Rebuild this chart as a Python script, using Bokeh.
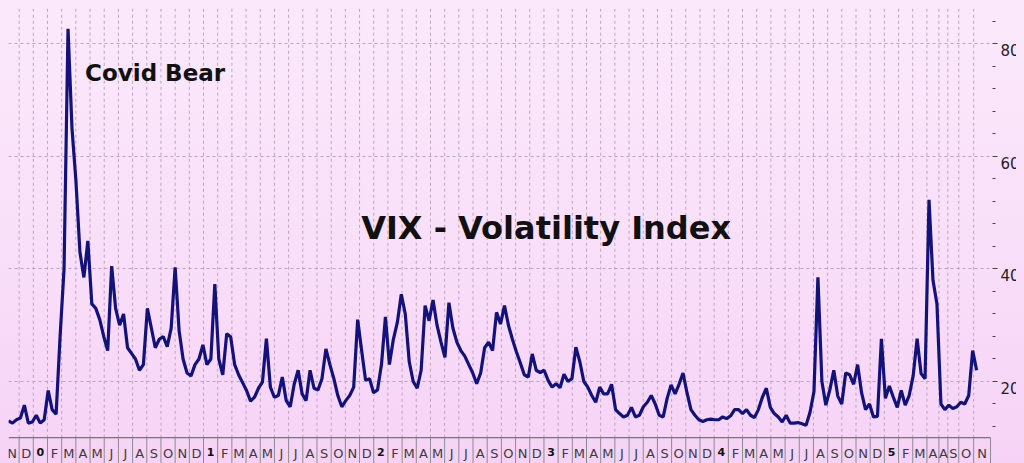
import numpy as np
from bokeh.plotting import figure
from bokeh.models import FixedTicker, Label, Range1d, GlobalInlineStyleSheet, LinearAxis
from bokeh.core.properties import value
from bokeh.embed import file_html
from bokeh.resources import INLINE

# ---- data: VIX close, one value per session bucket (Nov 2019 .. Oct 2025) ----
vix = [
    13.0, 12.6, 13.2, 13.5, 15.8, 12.6, 12.8, 14.0, 12.6, 13.2,
    18.4, 15.0, 14.2, 28.0, 40.0, 82.7, 65.0, 55.6, 43.0, 38.5,
    45.0, 33.8, 33.0, 31.0, 28.0, 25.5, 40.5, 33.0, 30.0, 32.0,
    26.0, 25.0, 24.0, 22.0, 23.0, 33.0, 29.5, 26.0, 27.5, 28.0,
    26.2, 29.5, 40.3, 29.0, 24.0, 21.5, 21.0, 23.0, 24.0, 26.5,
    23.0, 24.0, 37.3, 24.0, 21.2, 28.5, 27.9, 23.0, 21.2, 19.8,
    18.4, 16.5, 17.2, 18.8, 19.9, 27.6, 19.0, 17.2, 17.5, 20.8,
    16.6, 15.5, 19.5, 22.0, 17.8, 16.6, 22.0, 18.8, 18.5, 20.5,
    25.8, 23.0, 20.5, 17.5, 15.5, 16.6, 17.5, 19.0, 31.0, 25.5,
    20.2, 20.5, 18.0, 18.5, 23.0, 31.5, 23.0, 27.5, 30.5, 35.5,
    32.0, 23.5, 20.0, 18.8, 22.0, 33.5, 30.8, 34.5, 30.0, 27.0,
    24.3, 34.0, 29.5, 27.0, 25.5, 24.5, 23.0, 21.5, 19.6, 21.5,
    26.0, 27.0, 25.5, 32.3, 30.2, 33.5, 30.0, 27.5, 25.3, 23.3,
    21.2, 20.8, 24.9, 22.0, 21.6, 22.0, 20.2, 19.0, 19.6, 18.9,
    21.3, 20.0, 20.5, 26.1, 23.5, 20.0, 19.0, 17.5, 16.3, 19.0,
    17.8, 17.8, 19.5, 15.0, 14.3, 13.7, 14.0, 15.4, 13.7, 14.0,
    15.5, 16.3, 17.5, 16.0, 14.0, 13.7, 17.0, 19.4, 17.8, 19.5,
    21.5, 18.0, 15.0, 14.0, 13.2, 12.9, 13.2, 13.3, 13.2, 13.2,
    13.7, 13.4, 13.9, 15.0, 15.0, 14.3, 15.0, 14.0, 13.6, 15.0,
    17.2, 18.8, 15.4, 14.3, 13.7, 12.8, 14.0, 12.6, 12.6, 12.7,
    12.5, 12.2, 14.5, 18.2, 38.5, 20.0, 15.8, 18.5, 22.0, 17.4,
    16.0, 21.5, 21.2, 19.5, 23.0, 18.0, 15.0, 16.0, 13.7, 13.8,
    27.6, 17.0, 19.2, 17.2, 15.4, 18.4, 15.8, 17.5, 21.0, 27.6,
    21.4, 20.5, 52.3, 38.0, 33.8, 16.0, 15.0, 15.8, 15.2, 15.5,
    16.3, 16.0, 17.5, 25.5, 22.0,
]

# month labels on the time axis (year digit marks January)
labels_2019 = ["N", "D"]
labels_2020 = ["0", "F", "M", "A", "M", "J", "J", "A", "S", "O", "N", "D"]
labels_2021 = ["1", "F", "M", "A", "M", "J", "J", "A", "S", "O", "N", "D"]
labels_2022 = ["2", "F", "M", "A", "M", "J", "J", "A", "S", "O", "N", "D"]
labels_2023 = ["3", "F", "M", "A", "M", "J", "J", "A", "S", "O", "N", "D"]
labels_2024 = ["4", "F", "M", "A", "M", "J", "J", "A", "S", "O", "N", "D"]
labels_2025 = ["5", "F", "M", "A", "A", "S", "O", "N"]
month_labels = labels_2019 + labels_2020 + labels_2021 + labels_2022 + labels_2023 + labels_2024 + labels_2025

# month start positions in session-bucket units
month_width = 3.575
month_starts = [round(-0.9 + month_width * k, 3) for k in range(66)] + [234.5, 236.75, 239.5, 243.25]
axis_end = 247.5

y_major = [20, 40, 60, 80]
y_minor = [12, 16, 24, 28, 32, 36, 44, 48, 52, 56, 64, 68, 72, 76, 84]
y_labels = ["20.", "40.", "60.", "80."]

FONT = "DejaVu Sans"

# ranges (value axis floor = 10; strip below holds the month labels)
X_END = 248
Y_TOP = 86.31
Y_FLOOR = 10
Y_BOTTOM = 5.42
LABEL_Y = 7.2
YEAR_Y = 7.45
LABEL_SHIFT = 1.07   # value-axis label sits a little below its tick

bounds = month_starts + [axis_end]
centers = [round((a + b) / 2.0, 4) for a, b in zip(bounds[:-1], bounds[1:])]
letter_x = [c for c, lab in zip(centers, month_labels) if not lab.isdigit()]
letter_t = [lab for lab in month_labels if not lab.isdigit()]
year_x = [c for c, lab in zip(centers, month_labels) if lab.isdigit()]
year_t = [lab for lab in month_labels if lab.isdigit()]

x = np.arange(len(vix))

p = figure(frame_width=984, frame_height=455,
           x_range=Range1d(0, X_END), y_range=Range1d(Y_BOTTOM, Y_TOP),
           output_backend="svg", toolbar_location=None,
           y_axis_location="right", x_axis_location=None,
           min_border_left=0, min_border_top=0, min_border_right=0, min_border_bottom=0)

p.stylesheets = [GlobalInlineStyleSheet(css="html { min-height: 100%; background: linear-gradient(to bottom, #fbe9fb 0%, #f9e0f9 50%, #f6d3f6 100%) fixed; } body { margin: 8px; background: transparent; }")]
p.background_fill_alpha = 0
p.border_fill_alpha = 0
p.outline_line_color = None

# grids
p.xgrid.visible = False
p.ygrid.ticker = FixedTicker(ticks=y_major)
p.ygrid.grid_line_color = "#bfa2bf"
p.ygrid.grid_line_dash = "3 3"
p.ygrid.grid_line_width = 1

# vertical dotted month gridlines above the time axis
p.segment(x0=month_starts, y0=[Y_FLOOR] * len(month_starts), x1=month_starts, y1=[Y_TOP] * len(month_starts),
          line_color="#bfa2bf", line_dash="3 3", line_width=1)

# time axis: base line, month separators and labels
p.segment(x0=[0], y0=[Y_FLOOR], x1=[axis_end], y1=[Y_FLOOR], line_color="#5a5a5a", line_width=1)
p.segment(x0=bounds, y0=[Y_FLOOR] * len(bounds), x1=bounds, y1=[Y_BOTTOM] * len(bounds),
          line_color="#8c8c8c", line_width=1)
p.text(x=letter_x, y=[LABEL_Y] * len(letter_x), text=letter_t, text_font=value(FONT),
       text_font_size="13px", text_color="#3c3c3c", text_align="center", text_baseline="middle")
p.text(x=year_x, y=[YEAR_Y] * len(year_x), text=year_t, text_font=value(FONT), text_font_style="bold",
       text_font_size="11px", text_color="#111111", text_align="center", text_baseline="middle")

# right value axis: tick marks
ya = p.yaxis[0]
ya.ticker = FixedTicker(ticks=y_major, minor_ticks=y_minor)
ya.major_label_overrides = {v: "" for v in y_major}
ya.major_label_standoff = 0
ya.axis_line_color = None
ya.major_tick_out = 5
ya.major_tick_in = 0
ya.minor_tick_out = 3
ya.minor_tick_in = 0
ya.major_tick_line_color = "#444444"
ya.minor_tick_line_color = "#444444"

# right value axis: labels (slightly below each tick)
label_pos = [round(v - LABEL_SHIFT, 3) for v in y_major]
ya2 = LinearAxis(ticker=FixedTicker(ticks=label_pos, minor_ticks=[]),
                 major_label_overrides={pos: lab for pos, lab in zip(label_pos, y_labels)})
ya2.axis_line_color = None
ya2.major_tick_line_color = None
ya2.minor_tick_line_color = None
ya2.major_tick_out = 0
ya2.major_tick_in = 0
ya2.major_label_standoff = 3
ya2.major_label_text_font = FONT
ya2.major_label_text_font_size = "15px"
ya2.major_label_text_color = "#222222"
p.add_layout(ya2, "right")

# series
p.line(x, vix, line_color="#12127a", line_width=3.2)

# annotations
p.add_layout(Label(x=19.3, y=74.9, text="Covid Bear", text_font=FONT, text_font_style="bold",
                   text_font_size="23px", text_color="#111111", text_align="left", text_baseline="middle"))
p.add_layout(Label(x=135.5, y=47.2, text="VIX - Volatility Index", text_font=FONT, text_font_style="bold",
                   text_font_size="32px", text_color="#111111", text_align="center", text_baseline="middle"))

open("out.html", "w").write(file_html(p, INLINE))
